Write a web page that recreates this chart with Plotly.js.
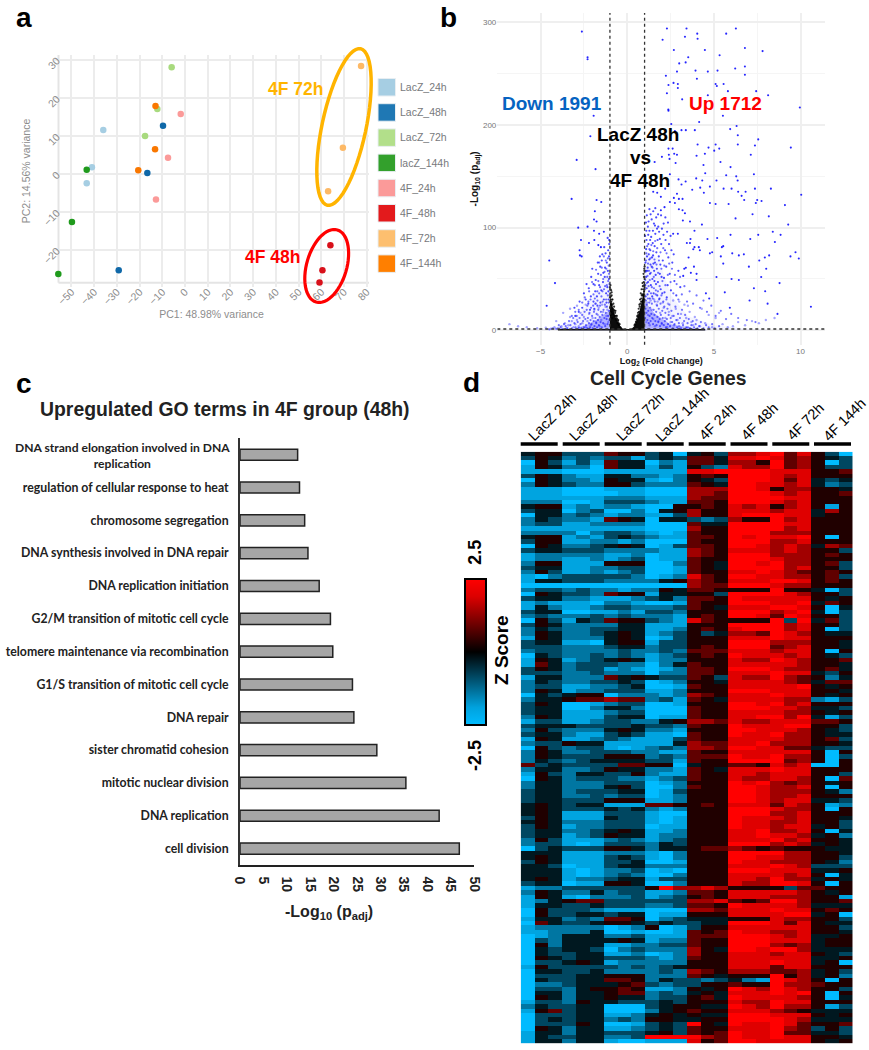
<!DOCTYPE html>
<html>
<head>
<meta charset="utf-8">
<script src="https://cdn.plot.ly/plotly-3.0.1.min.js"></script>
<style>body{margin:0;background:#fff}</style>
</head>
<body>
<div id="fig" style="width:869px;height:1050px"></div>
<script>
// panel a - PCA
var seriesNames = ["LacZ_24h","LacZ_48h","LacZ_72h","lacZ_144h","4F_24h","4F_48h","4F_72h","4F_144h"];
var seriesColors = ["#a6cee3","#1f78b4","#b2df8a","#33a02c","#fb9a99","#e31a1c","#fdbf6f","#ff7f00"];
var pcaDotColors = ["#a6cee3","#0f68a8","#a8da7e","#1f9a1c","#fb9a99","#d8101a","#fdb966","#f97700"];
var pc1 = [[-36,-41,-43.3],[-9.7,-16.6,-29.2],[-5.9,-12.2,-17.6],[-43.3,-49.8,-55.8],[-1.9,-7.5,-12.8],[64,60.5,59.2],[77.5,69.5,63],[-13,-13.2,-20.6]];
var pc2 = [[11.5,1.7,-2.5],[12.6,0.2,-25.4],[28,17,9.9],[1,-12.7,-26.4],[15.7,4.2,-6.8],[-18.8,-25.4,-28.6],[28.3,6.8,-4.6],[17.8,6.4,0.9]];

// panel b - volcano, blue points above the cloud
var upX = [2.29,3.42,2.04,3.33,4.04,4.06,5.71,6.27,2.69,4.48,6.79,7.81,5.33,3.52,3.37,3,3.94,2.87,4.65,5.21,6.23,6.79,2.23,6.79,4.02,2.38,2.67,2.92,2.92,5.1,5.17,5.56,5.81,7.44,2.29,4.65,8.13,3.17,2.37,2.38,9.96,5.52,4.15,2.54,6.31,5.94,3.38,3.13,3.9,2.75,6.38,7.56,6.38,4.06,5.1,4.69,5.31,7.37,9.44,5.02,4.48,4,7.13,2.4,2.44,2,2.62,2.38,2.71,2.87,1.58,2.79,5.38,4.4,5.96,7.31,4.5,5.71,6.29,2.46,2.96,3.37,3.98,4.33,5.15,6.37,4.21,4.77,5.56,6.02,7.37,8.29,3.75,2.19,1.5,1.73,3.13,6.4,6.83,10.04,2.87,1.94,2.69,4.42,6.6,2.98,3.19,6.75,7.5,7.75,7.42,9.1,4.77,5.1,5.85,2.75,2.46,2.15,1.94,2.98,3.19,3.33,7.23,8.17,6.25,3.21,3.62,4.31,9.29,8.4,8.85,5.96,7.56,5.19,4.63,7.1,8.52,3.65,3.88,3.44,3.62,2.65,2.92,5.54,5.46,4.13,3.88,3.81,4.19,3.54,4.77,4.9,6.06,6.44,6.73,8.19,9.71,9.42,9.9,7.62,7.94,5.4,5.54,3.85,3.29,3.38,7.02,8.02,3.67,4,3.23,5.15,7.73,6.02,6.44,8.79,4,7.31,7.96,5.63,4.54,4.73,7.06,8.1,10.6,5.92,8.67,-2.62,-2.29,-2.29,-1.94,-2.13,-2.92,-1.83,-3.21,-1.77,-1.5,-1.87,-1.92,-1.77,-2.83,-2.29,-1.92,-1.62,-1.35,-2.67,-2.21,-1.9,-1.04,-1.67,-1.52,-2.75,-2.73,-2.63,-4.5,-4.17,-4.65];
var upY = [294,294,283,286,289,284,289,294,273,273,275,272,268,266,261,260,253,252,252,253,255,257,248,249,245,239,241,240,236,240,238,240,233,233,231,229,229,225,215,214,217,209,203,201,199,196,195,195,195,194,190,186,181,181,181,178,177,180,178,175,172,170,171,171,167,169,177,177,172,171,164,163,164,161,159,152,153,151,150,152,147,145,148,146,146,146,139,140,138,138,138,138,137,138,135,134,142,135,135,132,133,130,129,134,131,128,128,127,127,126,124,122,124,123,123,124,125,120,117,118,117,114,113,111,109,107,106,103,103,96,93,93,93,90,89,89,86,89,97,85,85,94,94,82,81,81,81,79,78,71,75,76,75,73,74,73,76,72,70,68,71,72,65,62,60,61,62,60,56,55,53,52,52,50,49,46,49,41,38,37,36,31,29,26,23,22,16,291,266,264,209,189,166,157,128,127,125,116,108,106,100,101,97,94,96,88,85,88,88,83,81,78,73,72,68,46,24];

// blue points inside the flanks of the volcano
var midX = [1.06,1.12,1.09,1.2,1.18,1.26,1.31,1.05,1.14,1.27,1.36,1.41,1.33,1.22,1.11,1.45,1.52,1.49,1.55,1.6,1.38,1.28,1.19,1.47,1.58,1.66,1.71,1.68,1.62,1.75,1.82,1.88,1.93,1.79,1.54,1.41,1.35,1.23,1.67,1.84,1.96,2.05,2.12,2.02,2.18,2.25,2.33,2.09,2.21,2.37,2.45,2.52,2.6,2.41,2.55,2.72,2.83,2.95,3.06,2.68,1.09,1.15,1.24,1.3,1.44,1.57,1.73,1.86,1.04,1.07,1.17,1.34,1.43,1.51,1.64,1.77,1.91,1.98,2.15,2.28,1.03,1.1,1.21,1.32,1.48,1.6,1.72,1.88,2.0,2.3,2.5,2.1,1.95,1.5,1.62,1.78,2.2,2.35,1.13,1.28,1.08,-1.08,-1.15,-1.22,-1.3,-1.4,-1.5,-1.62,-1.75,-1.85,-1.95,-2.1,-2.25,-2.4,-2.6,-1.12,-1.18,-1.28,-1.38,-1.47,-1.56,-1.68,-1.82,-1.95,-2.08,-2.22,-2.35,-1.05,-1.1,-1.25,-1.33,-1.44,-1.58,-1.7,-2.02,-1.06,-1.09,-1.2,-1.35,-1.55,-1.72,-1.9,-2.15,-2.8,-3.0,-1.04,-1.13,-2.5,-2.75,-3.05];
var midY = [33,41,52,47,61,38,55,66,72,69,44,62,78,84,88,50,36,73,58,66,91,97,101,85,82,45,60,76,94,88,72,55,40,101,104,108,113,106,110,96,84,68,51,36,78,62,44,93,88,71,55,39,66,84,78,48,34,58,42,74,79,58,74,31,33,48,34,31,44,58,35,64,71,65,54,47,64,52,37,32,92,97,93,88,97,102,99,89,99,96,92,104,112,116,119,113,110,105,112,118,105,30,42,36,52,47,39,44,33,38,28,33,26,30,22,58,66,61,56,68,62,55,49,45,52,41,45,72,78,75,81,74,72,66,60,50,38,27,30,27,24,21,20,18,14,84,90,36,28,22];

// second pass over the flanks, lower and denser
var flankX = [1.03,1.05,1.08,1.11,1.13,1.16,1.19,1.21,1.24,1.27,1.29,1.32,1.35,1.37,1.39,1.42,1.44,1.47,1.49,1.52,1.54,1.57,1.59,1.62,1.64,1.67,1.69,1.72,1.74,1.77,1.79,1.82,1.84,1.87,1.89,1.92,1.94,1.97,1.99,2.02,2.05,2.08,2.11,2.14,2.17,2.2,2.23,2.26,2.29,2.32,2.35,2.39,2.43,2.47,2.51,2.55,2.59,2.63,2.68,2.73,2.78,2.83,2.88,2.93,2.98,3.04,3.1,3.16,3.22,3.28,3.34,3.41,3.48,3.55,3.62,3.7,3.78,3.86,3.95,4.05,4.15,4.25,4.4,4.55,4.7,4.9,5.05,5.3,1.02,1.04,1.06,1.08,1.1,1.13,1.15,1.17,1.2,1.23,1.25,1.28,1.3,1.33,1.36,1.39,1.42,1.46,1.5,1.53,1.57,1.61,1.65,1.69,1.73,1.78,1.83,1.87,1.92,1.97,2.03,2.08,2.14,2.2,2.27,2.34,2.42,2.5,2.58,2.66,2.75,2.85,2.95,3.05,3.15,3.3,3.45,3.6,3.8,4,4.2,4.4,4.6,4.85,5.1,5.4,5.7,6,6.4,6.9,7.4,-1.03,-1.05,-1.07,-1.1,-1.12,-1.14,-1.17,-1.19,-1.22,-1.24,-1.27,-1.29,-1.32,-1.34,-1.37,-1.39,-1.42,-1.44,-1.47,-1.49,-1.52,-1.54,-1.57,-1.59,-1.62,-1.64,-1.67,-1.69,-1.72,-1.74,-1.77,-1.79,-1.82,-1.84,-1.87,-1.89,-1.92,-1.94,-1.97,-1.99,-2.03,-2.06,-2.09,-2.12,-2.15,-2.18,-2.21,-2.24,-2.27,-2.3,-2.34,-2.38,-2.42,-2.46,-2.5,-2.55,-2.6,-2.65,-2.7,-2.75,-2.8,-2.86,-2.92,-2.98,-3.05,-3.12,-3.2,-3.28,-3.36,-3.45,-3.55,-3.65,-3.75,-3.85,-3.95,-4.1,-4.3,-4.5,-1.03,-1.05,-1.07,-1.1,-1.12,-1.15,-1.18,-1.21,-1.24,-1.28,-1.31,-1.35,-1.39,-1.43,-1.47,-1.52,-1.57,-1.62,-1.67,-1.73,-1.8,-1.87,-1.95,-2.03,-2.12,-2.2,-2.3,-2.45,-2.6,-2.8,-3,-3.2];
var flankY = [12,21,29,17,25,10,31,19,7,27,14,22,9,36,16,26,12,31,6,20,41,15,28,9,35,18,5,24,13,38,8,21,30,11,4,26,15,34,7,19,12,28,5,23,9,17,3,30,11,21,6,15,25,4,12,19,8,2,14,6,23,10,3,16,7,12,2,20,5,9,15,3,7,11,2,5,9,3,6,2,4,8,2,5,3,6,2,4,40,49,57,68,75,46,82,53,65,43,58,79,49,70,56,83,42,61,77,52,69,87,39,64,80,56,68,43,76,60,48,80,63,44,75,54,65,47,60,36,54,45,30,52,35,43,28,38,26,34,22,29,18,24,14,19,11,16,12,10,8,10,19,27,14,34,6,23,11,30,17,4,25,12,40,20,7,28,15,3,33,18,8,24,13,36,5,20,10,29,3,16,7,26,12,31,4,18,9,24,2,14,6,22,10,3,17,7,28,12,2,20,5,11,18,3,9,15,2,6,12,2.5,8,14,3,7,12,2,5,9,2,4,6,1.5,3,5,1.5,2,1,45,55,63,48,70,52,44,60,68,43,57,72,50,38,61,54,42,66,48,38,59,44,35,47,30,38,24,32,27,20,18,14];

// fainter blue points near the baseline
var lowX = [-1.1,-1.2,-1.3,-1.4,-1.5,-1.6,-1.7,-1.8,-1.9,-2,-2.1,-2.2,-2.3,-2.4,-2.5,-2.6,-2.7,-2.8,-2.9,-3,-3.1,-3.2,-3.3,-3.4,-3.5,-3.6,-3.8,-4,-4.2,-4.4,-4.7,-5.2,-5.8,-6.3,-6.8,-3.7,-3.3,-2.9,-2.4,-4.1,-1.15,-1.25,-1.45,-1.65,-1.85,1.1,1.2,1.3,1.4,1.5,1.6,1.7,1.8,1.9,2,2.1,2.2,2.3,2.4,2.5,2.6,2.7,2.8,2.9,3,3.1,3.2,3.3,3.4,3.5,3.6,3.7,3.8,3.9,4,4.2,4.3,4.5,4.7,4.9,5.1,5.3,5.5,5.8,6.1,6.4,6.8,7.2,7.6,8,8.5,1.15,1.35,1.55,1.75,2.05,2.35,2.65,3,3.5];
var lowY = [8,14,6,18,10,4,15,8,20,12,5,16,9,3,13,7,17,4,10,6,3,9,13,5,2,7,4,2,3,1.5,2.5,2,3,4,6,17,21,24,25,9,20,23,25,22,26,8,15,5,20,11,4,25,9,17,6,22,12,3,18,8,14,5,21,10,4,16,7,25,12,3,18,8,5,13,10,4,21,7,15,3,12,17,6,3,4,8,5,9,7,10,12,27,29,30,28,27,26,29,28,24];

// outlines of the parts too dense to tell single points apart
var hazeOuterX = [-6,-4.5,-3.6,-3,-2.2,-1.6,-1,-1,1,1,1.8,2.5,3.5,5,7,8,8];
var hazeOuterY = [0,1.5,6,13,27,42,62,0,0,78,70,35,14,5,1.5,0.8,0];
var hazeCoreX = [-3.4,-2.4,-1.7,-1,-1,1,1,1.6,2.5,4,4.6];
var hazeCoreY = [0,5,11,20,0,0,28,16,6,1.2,0];
var coreX = [-1,-1,-0.9,-0.8,-0.7,-0.55,-0.4,-0.25,-0.1,0,0.1,0.25,0.4,0.55,0.7,0.85,1,1];
var coreY = [0,34,27,20,14,8,4,1.5,0.3,0,0.3,1.5,4,9,18,29,44,0];
var baselineX = [-4,4.5];
var baselineY = [0.5,0.5];
var fringeX = [-1,-0.98,-0.95,-0.92,-0.9,-0.87,-0.85,-0.8,-0.78,-0.74,-0.7,-0.66,-0.62,-0.58,-0.54,-0.5,-0.97,-0.93,1,0.98,0.96,0.93,0.9,0.87,0.84,0.8,0.76,0.72,0.68,0.64,0.6,0.56,0.52,0.99,0.95,1,-0.99,-0.96,-0.94,-0.91,-0.88,-0.86,-0.83,-0.81,-0.76,-0.72,-0.68,-0.64,-0.6,-0.56,-0.52,-0.48,-0.44,-0.4,-1,-0.97,-0.9,0.99,0.97,0.94,0.91,0.88,0.86,0.83,0.81,0.78,0.74,0.7,0.66,0.62,0.58,0.54,0.5,0.46,0.42,1,0.98];
var fringeY = [42,36,33,28,34,25,30,26,20,19,17,14,12,11,9,7,44,39,50,44,52,40,43,35,34,28,26,23,18,15,13,11,8,58,47,62,22,15,25,18,30,12,21,16,23,14,19,10,14,7,10,5,6,3,32,40,37,30,38,55,34,46,28,40,31,36,30,25,21,17,14,10,8,6,5,42,60];

// panel c - GO terms
var goTerms = ["DNA strand elongation involved in DNA replication","regulation of cellular response to heat","chromosome segregation","DNA synthesis involved in DNA repair","DNA replication initiation","G2/M transition of mitotic cell cycle","telomere maintenance via recombination","G1/S transition of mitotic cell cycle","DNA repair","sister chromatid cohesion","mitotic nuclear division","DNA replication","cell division"];
var goScores = [12.3,12.7,13.8,14.5,16.9,19.3,19.8,24.0,24.3,29.2,35.4,42.5,46.8];

// panel d - heatmap, one digit per cell: 0 = -2.5 ... 9 = 2.5, three replicates per group
var groupNames = ["LacZ 24h","LacZ 48h","LacZ 72h","LacZ 144h","4F 24h","4F 48h","4F 72h","4F 144h"];
var heatRows = [
"455 333 655 340 453 778 968 530",
"354 232 331 343 664 889 867 543",
"053 131 644 021 664 775 967 503",
"154 220 644 131 532 877 967 533",
"111 000 111 111 889 999 888 556",
"354 211 442 212 565 999 878 555",
"054 221 544 102 543 999 868 434",
"254 322 553 222 654 998 878 423",
"111 000 111 000 777 998 577 554",
"111 000 011 000 776 999 878 556",
"111 111 222 111 766 999 988 555",
"222 001 333 211 665 999 878 555",
"455 121 221 005 565 878 578 515",
"344 023 002 045 755 888 788 475",
"044 232 122 113 755 899 988 455",
"243 221 654 044 323 755 978 555",
"233 112 222 000 644 999 988 555",
"111 111 111 000 755 999 978 555",
"222 202 332 101 655 999 777 555",
"455 121 343 211 665 989 889 505",
"355 112 212 000 655 999 778 555",
"054 223 454 013 665 998 787 476",
"344 333 222 211 765 888 787 553",
"122 222 112 011 765 999 777 565",
"122 112 123 011 655 999 877 555",
"255 111 555 002 654 998 977 563",
"344 112 233 001 654 999 978 553",
"253 112 123 001 655 889 876 565",
"102 333 332 012 865 998 877 563",
"144 333 222 245 765 888 998 565",
"000 000 000 000 766 999 877 555",
"233 232 212 254 665 555 955 403",
"054 332 655 144 553 999 987 553",
"344 221 112 342 665 988 888 545",
"121 110 221 001 655 999 889 465",
"142 112 332 223 654 888 998 504",
"344 001 121 332 555 999 789 403",
"232 223 232 221 565 998 698 553",
"053 143 655 321 865 555 939 463",
"354 222 244 111 555 999 978 553",
"243 223 344 112 565 899 978 503",
"254 223 454 123 534 776 987 544",
"154 222 454 013 555 888 988 555",
"344 110 455 133 555 999 777 554",
"333 222 344 233 565 999 678 554",
"233 222 232 232 666 888 788 505",
"043 223 232 123 565 988 878 543",
"154 123 454 122 555 877 987 556",
"164 233 322 024 655 888 887 554",
"354 233 121 012 665 999 877 564",
"333 223 222 022 665 888 988 435",
"144 222 645 433 653 877 976 524",
"243 223 343 012 554 888 876 466",
"233 112 234 001 655 888 889 545",
"254 122 333 112 555 999 888 554",
"043 455 022 212 765 888 988 545",
"244 566 766 231 654 888 877 213",
"354 001 233 001 555 998 978 555",
"344 002 442 000 655 999 887 443",
"344 111 233 000 655 888 877 545",
"254 111 344 011 655 889 979 413",
"133 112 332 245 776 877 888 665",
"344 433 334 332 655 988 899 553",
"253 222 454 221 555 998 887 543",
"344 211 343 110 655 988 977 544",
"154 112 321 113 655 888 877 563",
"233 544 111 114 766 889 777 554",
"053 233 101 232 776 998 866 433",
"254 223 332 211 655 888 888 505",
"254 333 555 232 666 988 977 503",
"243 234 444 331 655 999 967 505",
"634 333 366 550 455 665 878 005",
"244 223 544 221 654 888 988 555",
"153 244 335 211 655 887 888 553",
"054 233 322 123 655 877 887 506",
"244 222 333 012 555 989 767 545",
"244 222 453 002 655 998 778 505",
"344 233 344 013 555 998 777 542",
"344 223 233 012 555 998 778 555",
"344 333 555 112 555 998 788 443",
"454 344 111 665 565 888 687 512",
"454 333 434 212 555 999 877 505",
"454 111 333 100 555 999 778 555",
"354 111 433 101 555 988 878 554",
"454 222 333 101 555 988 778 553",
"354 122 333 011 555 988 788 453",
"344 223 454 112 555 889 778 504",
"344 123 544 122 555 889 887 452",
"253 111 232 123 555 888 978 554",
"233 101 333 243 555 999 787 454",
"034 333 554 244 566 765 655 544",
"444 111 222 102 555 999 977 554",
"454 111 343 102 555 998 877 553",
"354 111 334 001 555 988 777 542",
"443 011 344 222 555 888 987 333",
"444 101 223 010 555 999 888 445",
"444 101 232 002 555 888 878 504",
"454 122 344 133 555 887 977 454",
"344 011 554 002 555 877 998 505",
"122 333 333 597 787 555 536 655",
"254 224 233 112 665 888 887 545",
"154 102 223 123 565 888 777 551",
"124 566 333 333 778 656 997 556",
"144 334 333 223 665 988 887 444",
"053 332 111 000 776 888 988 565",
"053 344 344 011 555 888 899 450",
"144 232 665 023 444 555 877 553",
"064 334 554 343 344 999 868 544",
"122 222 012 501 355 888 888 553",
"112 224 001 001 656 988 778 554",
"012 444 223 111 666 999 878 445",
"032 444 454 122 655 999 888 455",
"052 444 112 233 655 999 767 455",
"043 443 023 222 754 998 997 444",
"043 344 112 012 755 888 788 543",
"054 344 333 212 655 888 888 445",
"033 454 122 222 555 888 988 450",
"153 333 323 234 555 888 688 555",
"044 334 222 232 765 777 667 453",
"033 344 555 222 654 555 957 452",
"043 344 665 243 323 421 987 505",
"022 344 456 323 355 655 977 655",
"033 245 565 112 545 987 987 553",
"044 244 566 232 454 888 989 505",
"054 244 544 233 564 988 887 504",
"133 254 433 343 555 877 988 555",
"243 344 000 345 544 987 977 513",
"156 344 000 245 655 888 765 444",
"033 344 112 454 544 999 888 545",
"034 344 232 554 455 999 987 444",
"033 354 001 343 954 988 986 556",
"054 244 112 343 655 888 976 353",
"144 244 333 453 656 988 966 443",
"143 344 223 999 976 988 988 554",
"144 244 100 111 856 998 888 545"
].map(function(r){return r.replace(/ /g,"").split("").map(function(c){return -2.5+Number(c)*5/9;});});

// ---- layout helpers, everything below in page pixels
var W = 869, H = 1050;
function dx(a,b){return [a/W,b/W];}
function dy(a,b){return [1-b/H,1-a/H];}
function note(text,x,y,size,color,extra){
  var o = {text:text,x:x/W,y:1-y/H,xref:"paper",yref:"paper",showarrow:false,xanchor:"center",yanchor:"middle",
    font:{family:"Liberation Sans, Arial, sans-serif",size:size,color:color,weight:700}};
  for(var k in extra){o[k]=extra[k];}
  return o;
}
function ellipse(cx,cy,rx,ry,deg){
  var t = deg*Math.PI/180, p = "";
  for(var i=0;i<60;i++){
    var a = i/60*2*Math.PI, u = rx*Math.cos(a), v = ry*Math.sin(a);
    var px = cx+u*Math.cos(t)+v*Math.sin(t), py = cy+u*Math.sin(t)-v*Math.cos(t);
    p += (i?"L":"M")+(px/W).toFixed(5)+","+(1-py/H).toFixed(5);
  }
  return p+"Z";
}

var traces = [];
seriesNames.forEach(function(n,i){
  traces.push({type:"scatter",mode:"markers",name:n,x:pc1[i],y:pc2[i],xaxis:"x",yaxis:"y",showlegend:false,
    marker:{color:pcaDotColors[i],size:6.5}});
});
function poly(x,y,fill){
  traces.push({type:"scatter",mode:"lines",x:x,y:y,xaxis:"x2",yaxis:"y2",fill:"toself",fillcolor:fill,line:{width:0},showlegend:false,hoverinfo:"skip"});
}
poly(hazeOuterX,hazeOuterY,"rgba(60,60,255,0.06)");
poly(hazeCoreX,hazeCoreY,"rgba(20,20,255,0.3)");
traces.push({type:"scatter",mode:"markers",x:lowX,y:lowY,xaxis:"x2",yaxis:"y2",showlegend:false,marker:{color:"#0000ff",size:2.4,opacity:0.35}});
traces.push({type:"scatter",mode:"markers",x:flankX,y:flankY,xaxis:"x2",yaxis:"y2",showlegend:false,marker:{color:"#0000ff",size:2.2,opacity:0.55}});
traces.push({type:"scatter",mode:"markers",x:midX,y:midY,xaxis:"x2",yaxis:"y2",showlegend:false,marker:{color:"#0000ff",size:2.2,opacity:0.7}});
traces.push({type:"scatter",mode:"markers",x:upX,y:upY,xaxis:"x2",yaxis:"y2",showlegend:false,marker:{color:"#0000ff",size:2.1,opacity:0.85}});
poly(coreX,coreY,"#0c0c0c");
traces.push({type:"scatter",mode:"lines",x:baselineX,y:baselineY,xaxis:"x2",yaxis:"y2",showlegend:false,line:{color:"#111",width:1.6}});
traces.push({type:"scatter",mode:"markers",x:fringeX,y:fringeY,xaxis:"x2",yaxis:"y2",showlegend:false,marker:{color:"#000",size:2.2,opacity:0.8}});

traces.push({type:"bar",orientation:"h",x:goScores,y:goTerms,xaxis:"x3",yaxis:"y3",width:0.34,showlegend:false,
  marker:{color:"#a6a6a6",line:{color:"#222",width:1.5}}});

traces.push({type:"heatmap",z:heatRows,xaxis:"x4",yaxis:"y4",zmin:-2.5,zmax:2.5,
  colorscale:[[0,"#00bbff"],[0.12,"#00a2de"],[0.5,"#000000"],[0.88,"#dc0000"],[1,"#ff0000"]],
  colorbar:{x:464.5/W,xanchor:"left",xpad:0,ypad:0,y:1-651.5/H,yanchor:"middle",lenmode:"pixels",len:146,thicknessmode:"pixels",thickness:21,
    outlinewidth:2,outlinecolor:"#000",showticklabels:false,ticks:""}});

// ---- shapes and text
var shapes = [], notes = [];
var dashLine = {color:"#333",width:1.3,dash:"3px,3px"};
shapes.push({type:"line",xref:"x2",yref:"y2",x0:-1,x1:-1,y0:-14,y1:309,line:dashLine});
shapes.push({type:"line",xref:"x2",yref:"y2",x0:1,x1:1,y0:-14,y1:309,line:dashLine});
shapes.push({type:"line",xref:"x2",yref:"y2",x0:-7.5,x1:11.4,y0:1.3,y1:1.3,line:dashLine});
shapes.push({type:"path",xref:"paper",yref:"paper",path:ellipse(344,127,22,80,12),line:{color:"#ffb400",width:3.5}});
shapes.push({type:"path",xref:"paper",yref:"paper",path:ellipse(326.7,266,20,37.6,16.4),line:{color:"#ff0000",width:3.2}});
// panel a frame sits inside the plot area so the edge points stay whole
var frameLine = {color:"#e4e4e4",width:2};
shapes.push({type:"line",xref:"paper",yref:"paper",layer:"below",x0:58.5/W,x1:58.5/W,y0:1-55/H,y1:1-282.7/H,line:frameLine});
shapes.push({type:"line",xref:"paper",yref:"paper",layer:"below",x0:58.5/W,x1:369/W,y0:1-282.7/H,y1:1-282.7/H,line:frameLine});

seriesNames.forEach(function(n,i){
  var top = 78.5+i*25.2;
  shapes.push({type:"rect",xref:"paper",yref:"paper",x0:378/W,x1:395.5/W,y0:1-top/H,y1:1-(top+17.5)/H,fillcolor:seriesColors[i],line:{color:"#e8eef2",width:1}});
  notes.push(note(n,398,top+8.5,10.5,"#77797c",{xanchor:"left",font:{family:"Liberation Sans, Arial, sans-serif",size:10.5,color:"#77797c"}}));
});

// group bars above the heatmap
var groupBarLeft = [520.7,562.7,604.7,646.7,688.7,730.5,772.3,814];
var groupLabelX = [552,593,640,682,717,759,805,844];
var groupLabelY = [417,417,417,415,422,422,422,420];
groupNames.forEach(function(n,i){
  shapes.push({type:"line",xref:"paper",yref:"paper",x0:groupBarLeft[i]/W,x1:(groupBarLeft[i]+37)/W,y0:1-444/H,y1:1-444/H,line:{color:"#000",width:3.5}});
  notes.push(note(n,groupLabelX[i],groupLabelY[i],13,"#000",{textangle:-45,font:{family:"Liberation Sans, Arial, sans-serif",size:14.5,color:"#000"}}));
});

notes.push(note("a",24,18,28,"#000"));
notes.push(note("b",448,18,28,"#000"));
notes.push(note("c",24,383,28,"#000"));
notes.push(note("d",472,382,28,"#000"));
notes.push(note("4F 72h",295,89,17.5,"#ffb400"));
notes.push(note("4F 48h",272.7,257,17.5,"#ff0000"));
notes.push(note("Down 1991",551.7,103,19,"#0563c1"));
notes.push(note("Up 1712",725,103,19,"#ff0000"));
notes.push(note("LacZ 48h",638,134,19,"#000"));
notes.push(note("vs",640,158,19,"#000"));
notes.push(note("4F 48h",640,180,19,"#000"));
notes.push(note("Upregulated GO terms in 4F group (48h)",224.7,409,19.4,"#222"));
notes.push(note("Cell Cycle Genes",668,378,19.3,"#222"));
notes.push(note("2.5",475,552.7,18,"#000",{textangle:-90}));
notes.push(note("-2.5",475,756,18,"#000",{textangle:-90}));
notes.push(note("Z Score",501,650,19,"#000",{textangle:-90}));
notes.push(note("-Log<sub>10</sub> (p<sub>adj</sub>)",329,912,16,"#222"));
// first GO term is centred over two lines in the source, tick labels cannot do that
notes.push({text:"DNA strand elongation involved in DNA<br>replication",x:122/W,y:1-455/H,xref:"paper",yref:"paper",showarrow:false,align:"center",
  xanchor:"center",yanchor:"middle",font:{family:"Lato, sans-serif",size:12.1,color:"#222",weight:700}});

var grayTick = {family:"Liberation Sans, Arial, sans-serif",size:10.5,color:"#8d8d8d"};
var layout = {
  width:W,height:H,margin:{l:0,r:0,t:0,b:0},autosize:false,paper_bgcolor:"#fff",plot_bgcolor:"#fff",showlegend:false,
  xaxis:{domain:dx(54,369),range:[-57.7,81],dtick:10,tick0:0,tickangle:-45,tickfont:grayTick,gridcolor:"#ececec",gridwidth:1.8,zeroline:false,
    ticks:"",anchor:"y",ticklabelstandoff:-4,
    title:{text:"PC1: 48.98% variance",font:{family:"Liberation Sans, Arial, sans-serif",size:10.5,color:"#8d8d8d"},standoff:4}},
  yaxis:{domain:dy(55,287),range:[-29.8,31.2],dtick:10,tick0:0,tickangle:-45,tickfont:grayTick,gridcolor:"#ececec",gridwidth:1.8,zeroline:false,
    ticks:"",anchor:"x",ticklabelstandoff:-4,
    title:{text:"PC2: 14.56% variance",font:{family:"Liberation Sans, Arial, sans-serif",size:10.5,color:"#8d8d8d"},standoff:8}},
  xaxis2:{domain:dx(497.3,825.3),range:[-7.5,11.43],dtick:5,tick0:0,tickfont:{family:"Liberation Sans, Arial, sans-serif",size:8,color:"#777"},
    gridcolor:"#efefef",gridwidth:1.5,zeroline:false,ticks:"",anchor:"y2",
    minor:{dtick:2.5,showgrid:true,gridcolor:"#f5f5f5",gridwidth:1.3},
    title:{text:"Log<sub>2</sub> (Fold Change)",font:{family:"Liberation Sans, Arial, sans-serif",size:9,color:"#111",weight:700},standoff:2}},
  yaxis2:{domain:dy(12.7,345),range:[-14.3,309.4],dtick:100,tick0:0,tickfont:{family:"Liberation Sans, Arial, sans-serif",size:8,color:"#777"},
    gridcolor:"#efefef",gridwidth:1.5,zeroline:false,ticks:"",anchor:"x2",
    minor:{dtick:50,showgrid:true,gridcolor:"#f5f5f5",gridwidth:1.3},
    title:{text:"-Log<sub>10</sub> (p<sub>adj</sub>)",font:{family:"Liberation Sans, Arial, sans-serif",size:10,color:"#111",weight:700},standoff:2}},
  xaxis3:{domain:dx(240,474.3),range:[0,50],dtick:5,tick0:0,tickangle:90,showgrid:false,zeroline:false,showline:true,linecolor:"#222",linewidth:1.5,ticks:"",anchor:"y3",
    ticklabelstandoff:7,tickfont:{family:"Liberation Sans, Arial, sans-serif",size:14,color:"#222",weight:700}},
  yaxis3:{domain:dy(438.3,865),type:"category",categoryorder:"array",categoryarray:goTerms,range:[12.5,-0.5],showgrid:false,zeroline:false,showline:true,linecolor:"#333",linewidth:1.8,
    ticks:"",anchor:"x3",tickmode:"array",tickvals:goTerms,ticktext:[""].concat(goTerms.slice(1)),ticklabelstandoff:7,
    tickfont:{family:"Lato, sans-serif",size:12.3,color:"#222",weight:700}},
  xaxis4:{domain:dx(520.7,852.7),range:[-0.5,23.5],showticklabels:false,showgrid:false,zeroline:false,ticks:"",anchor:"y4"},
  yaxis4:{domain:dy(451.7,1043.3),range:[134.5,-0.5],showticklabels:false,showgrid:false,zeroline:false,ticks:"",anchor:"x4"},
  shapes:shapes,annotations:notes
};
Plotly.newPlot("fig",traces,layout,{displayModeBar:false});
</script>
</body>
</html>
